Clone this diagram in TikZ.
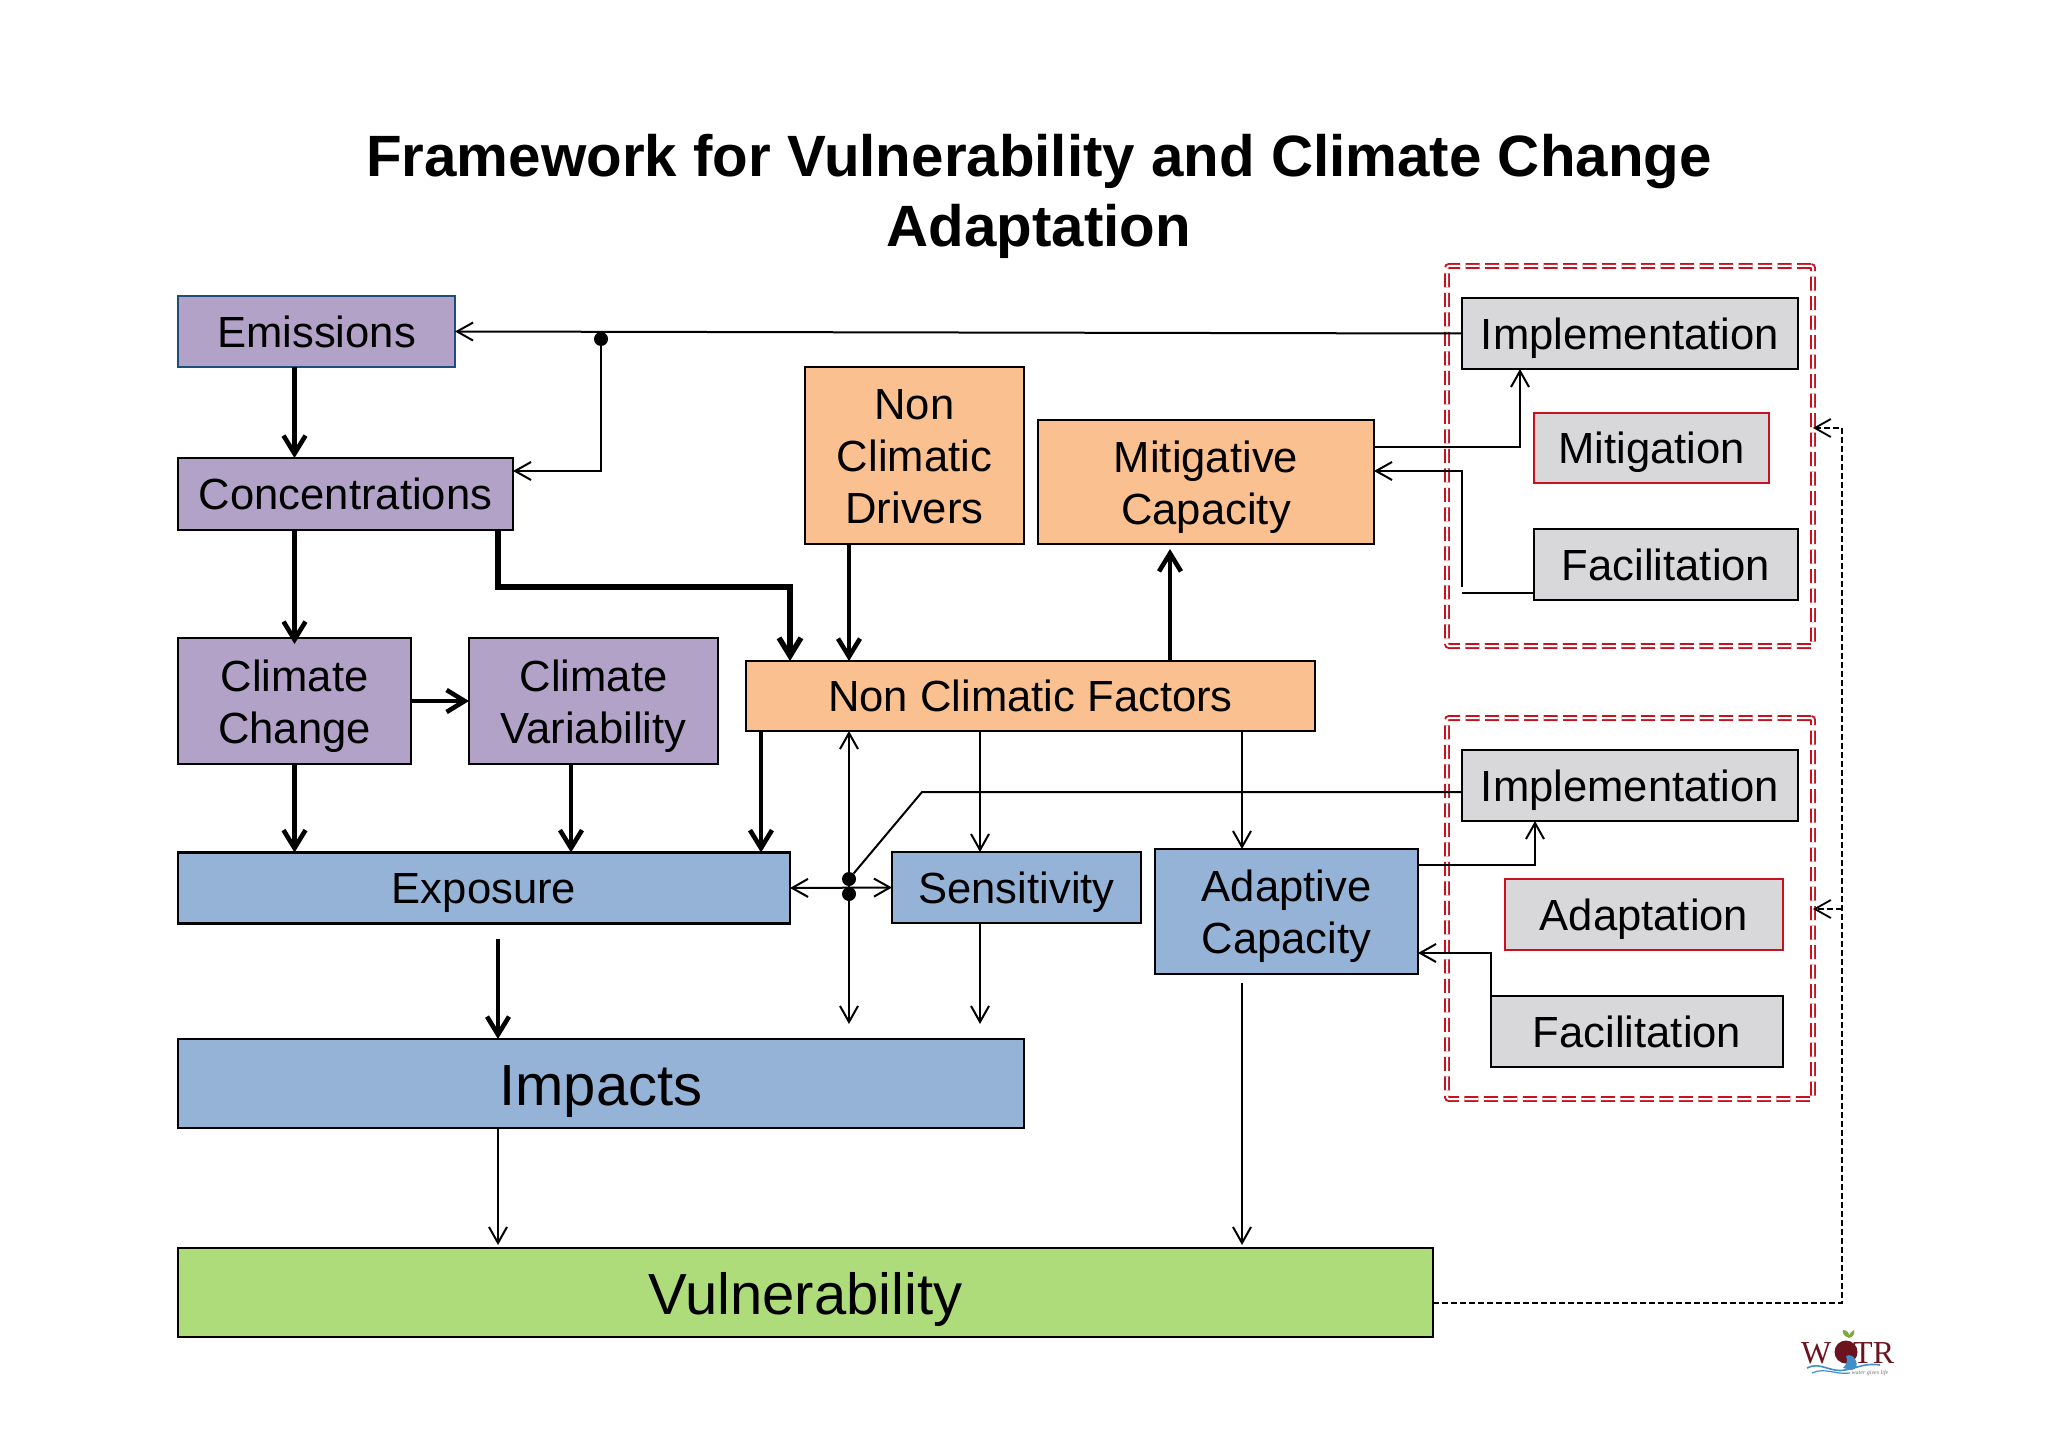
\documentclass[tikz,border=0pt]{standalone}
\usepackage{fontspec}
\setmainfont{Liberation Sans}
\newfontfamily\logofont{Liberation Serif}
\usetikzlibrary{arrows.meta}

\definecolor{violetfill}{HTML}{B3A2C7}
\definecolor{orangefill}{HTML}{FAC090}
\definecolor{bluefill}{HTML}{95B3D7}
\definecolor{greenfill}{HTML}{AEDC7A}
\definecolor{greyfill}{HTML}{D8D8DA}
\definecolor{redline}{HTML}{C8101E}
\definecolor{navyline}{HTML}{1F4E79}
\definecolor{logored}{HTML}{6B1420}
\definecolor{logoblue}{HTML}{3F8FC8}
\definecolor{logogreen}{HTML}{7FA83C}

\tikzset{
    box/.style={draw=black, line width=2.4pt, align=center, inner sep=0pt, outer sep=0pt,
        font=\fontsize{43.6}{52}\selectfont,
        execute at begin node={\rule{0pt}{0.94em}},
        execute at end node={\rule[-0.212em]{0pt}{0pt}}},
    violetbox/.style={box, fill=violetfill},
    orangebox/.style={box, fill=orangefill},
    bluebox/.style={box, fill=bluefill},
    greybox/.style={box, fill=greyfill},
    redbox/.style={box, fill=greyfill, draw=redline},
    bigtext/.style={font=\fontsize{58}{66}\selectfont,
        execute at begin node={\rule{0pt}{0.97em}}},
    manylines/.style={execute at begin node={\rule{0pt}{#1}}},
    dashframe/.style={draw=redline, line width=1.9pt, double=white, double distance=2pt,
        dash pattern=on 14pt off 5.5pt, rounded corners=2pt, inner sep=0pt, outer sep=0pt},
    dotnode/.style={circle, fill=black, inner sep=0pt, minimum size=14pt},
    thin link/.style={line width=2pt, ->},
    thick link/.style={line width=4.6pt, -{Straight Barb[length=18pt, width=22pt]}},
    dash link/.style={line width=1.8pt, ->, dash pattern=on 6pt off 3pt}
}

\begin{document}
\begin{tikzpicture}[x=1pt, y=-1pt, >={Straight Barb[length=16pt, width=18pt]}]

    \useasboundingbox (0,-1) rectangle (2048,1446);

    % title
    \node[align=center, font=\fontsize{58.3}{70}\selectfont\bfseries] (title) at (1039,195)
        {Framework for Vulnerability and Climate Change\\Adaptation};

    % red frames
    \node[dashframe, minimum width=366pt, minimum height=380pt] (frameA) at (1630,455) {};
    \node[dashframe, minimum width=366pt, minimum height=381pt] (frameB) at (1630,907.5) {};

    % drivers
    \node[violetbox, draw=navyline, minimum width=277pt, minimum height=71pt] (emissions) at (316.5,330.5) {Emissions};
    \node[violetbox, minimum width=335pt, minimum height=72pt] (conc) at (345.5,493) {Concentrations};
    \node[violetbox, manylines=94pt, minimum width=233pt, minimum height=126pt] (change) at (294.5,700) {Climate\\Change};
    \node[violetbox, manylines=94pt, minimum width=249pt, minimum height=126pt] (variab) at (593.5,700) {Climate\\Variability};

    % non climatic
    \node[orangebox, manylines=146pt, minimum width=219pt, minimum height=177pt] (drivers) at (914.5,454.5) {Non\\Climatic\\Drivers};
    \node[orangebox, manylines=94pt, minimum width=336pt, minimum height=124pt] (mitcap) at (1206,481) {Mitigative\\Capacity};
    \node[orangebox, minimum width=569pt, minimum height=70pt] (factors) at (1030.5,695) {Non Climatic Factors};

    % blue row
    \node[bluebox, minimum width=612pt, minimum height=71pt] (exposure) at (484,887) {Exposure};
    \node[bluebox, minimum width=249pt, minimum height=71pt] (sens) at (1016.5,886.5) {Sensitivity};
    \node[bluebox, manylines=94pt, minimum width=263pt, minimum height=125pt] (adapcap) at (1286.5,910.5) {Adaptive\\Capacity};
    \node[bluebox, bigtext, minimum width=846pt, minimum height=89pt] (impacts) at (601,1082.5) {Impacts};
    \node[box, bigtext, fill=greenfill, minimum width=1255pt, minimum height=89pt] (vuln) at (805.5,1291.5) {Vulnerability};

    % right hand side
    \node[greybox, minimum width=336pt, minimum height=71pt] (implA) at (1630,332.5) {Implementation};
    \node[redbox, minimum width=235pt, minimum height=70pt] (mitig) at (1651.5,447) {Mitigation};
    \node[greybox, minimum width=264pt, minimum height=71pt] (facilA) at (1666,563.5) {Facilitation};
    \node[greybox, minimum width=336pt, minimum height=71pt] (implB) at (1630,784.5) {Implementation};
    \node[redbox, minimum width=278pt, minimum height=71pt] (adapt) at (1644,913.5) {Adaptation};
    \node[greybox, minimum width=292pt, minimum height=71pt] (facilB) at (1637,1030.5) {Facilitation};

    % junctions
    \node[dotnode] (dotA) at (601,338) {};
    \node[dotnode] (dotB) at (849,878) {};
    \node[dotnode] (dotC) at (849,893) {};

    % columns and bends
    \coordinate (colB) at (571,0);
    \coordinate (colC) at (498,0);
    \coordinate (colD) at (761,0);
    \coordinate (colE) at (790,0);
    \coordinate (colF) at (849,0);
    \coordinate (colG) at (980,0);
    \coordinate (colH) at (1170,0);
    \coordinate (colI) at (1242,0);
    \coordinate (colJ) at (1520,0);
    \coordinate (colK) at (1535,0);
    \coordinate (rowA) at (0,586);
    \coordinate (bendB) at (922,791);
    \coordinate (dashtop) at (1842,427);
    \coordinate (dashmid) at (1842,908);

    % thick links
    \draw[thick link] (emissions.south -| change.north) -- (conc.north -| change.north);
    \draw[thick link] (conc.south -| change.north) -- ([yshift=-6pt]change.north);
    \draw[thick link] (change.east) -- (variab.west);
    \draw[thick link] (change.south) -- (change.south |- exposure.north);
    \draw[thick link] (variab.south -| colB) -- (exposure.north -| colB);
    \draw[thick link] (factors.south -| colD) -- (exposure.north -| colD);
    \draw[thick link, line width=5.4pt] (conc.south -| colC) -- (rowA -| colC) -- (rowA -| colE) -- (factors.north -| colE);
    \draw[thick link] (drivers.south -| colF) -- (factors.north -| colF);
    \draw[thick link] (factors.north -| colH) -- ([yshift=-5pt]mitcap.south -| colH);
    \draw[thick link, shorten <=15pt] (exposure.south -| colC) -- (impacts.north -| colC);

    % thin links
    \draw[thin link] (implA.west) -- (emissions.east);
    \draw[thin link] (dotA) |- ([yshift=23pt]conc.east);
    \draw[thin link] ([yshift=35pt]mitcap.east) -| (implA.south -| colJ);
    \draw[line width=2pt] ([yshift=-28pt]facilA.west) -- ([yshift=-28pt]facilA.west -| implA.west);
    \draw[thin link] (rowA -| implA.west) |- ([yshift=11pt]mitcap.east);

    \draw[thin link] (factors.south -| colG) -- (sens.north -| colG);
    \draw[thin link] (factors.south -| colI) -- (adapcap.north -| colI);
    \draw[thin link, <->] (factors.south -| colF) -- ([yshift=15pt]impacts.north -| colF);
    \draw[thin link, <->] (exposure.east) -- (sens.west);
    \draw[line width=2pt] (implB.west |- bendB) -- (bendB) -- (dotB);
    \draw[thin link] ([yshift=46.5pt]adapcap.east) -| (implB.south -| colK);
    \draw[thin link, shorten >=15pt] (sens.south -| colG) -- (impacts.north -| colG);
    \draw[thin link] (facilB.north west) |- ([yshift=-41.5pt]adapcap.east);
    \draw[thin link, shorten >=3pt] (impacts.south -| colC) -- (vuln.north -| colC);
    \draw[thin link, shorten <=9pt, shorten >=3pt] (adapcap.south -| colI) -- (vuln.north -| colI);

    % feedback from vulnerability
    \draw[dash link] ([yshift=-10.5pt]vuln.east) -| (dashtop) -- (dashtop -| frameA.east);
    \draw[dash link] (dashmid) -- (dashmid -| frameB.east);

    % logo
    \node[inner sep=0pt, anchor=base west, text=logored, font=\logofont\fontsize{32}{32}\selectfont] (logoW) at (1801,1362) {W};
    \node[inner sep=0pt, anchor=base west, text=logored, font=\logofont\fontsize{32}{32}\selectfont] (logoTR) at (1853,1362) {TR};
    \fill[logored] (1846,1351) circle (11.5);
    \fill[logogreen] (1849,1337) .. controls (1843,1335) and (1842,1331) .. (1843,1329) .. controls (1847,1329) and (1850,1332) .. (1849,1337)
        .. controls (1849,1332) and (1852,1330) .. (1854,1329) .. controls (1855,1333) and (1853,1336) .. (1849,1337);
    \fill[logoblue] (1846,1355) .. controls (1850,1353) and (1854,1355) .. (1856,1360) .. controls (1858,1364) and (1856,1368) .. (1852,1369) -- (1843,1367) .. controls (1847,1363) and (1848,1359) .. (1846,1355);
    \draw[logoblue, line width=1.6pt] (1807,1367) .. controls (1820,1360) and (1830,1372) .. (1845,1369) .. controls (1860,1366) and (1865,1362) .. (1880,1364);
    \draw[logoblue, line width=1.2pt] (1812,1372) .. controls (1825,1366) and (1835,1374) .. (1850,1372);
    \node[inner sep=0pt, text=black!55, font=\logofont\itshape\fontsize{6}{6}\selectfont] (logotag) at (1870,1372) {water gives life};

\end{tikzpicture}
\end{document}
